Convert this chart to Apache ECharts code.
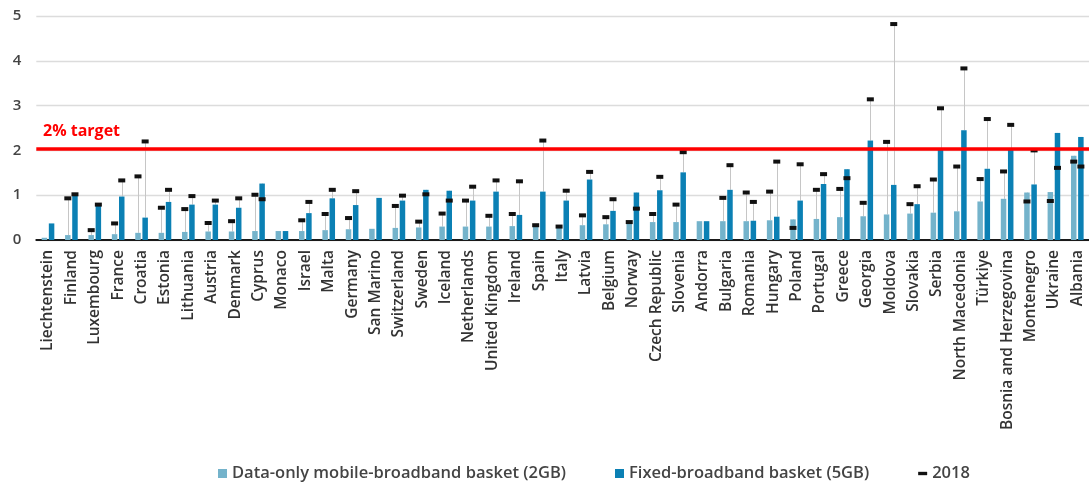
<!DOCTYPE html>
<html>
<head>
<meta charset="utf-8">
<script src="https://cdn.jsdelivr.net/npm/echarts@6/dist/echarts.min.js"></script>
<style>
html,body{margin:0;padding:0;background:#fff;}
#chart{width:1089px;height:485px;}
</style>
</head>
<body>
<div id="chart"></div>
<script>
var categories = ['Liechtenstein','Finland','Luxembourg','France','Croatia','Estonia','Lithuania','Austria','Denmark','Cyprus','Monaco','Israel','Malta','Germany','San Marino','Switzerland','Sweden','Iceland','Netherlands','United Kingdom','Ireland','Spain','Italy','Latvia','Belgium','Norway','Czech Republic','Slovenia','Andorra','Bulgaria','Romania','Hungary','Poland','Portugal','Greece','Georgia','Moldova','Slovakia','Serbia','North Macedonia','Türkiye','Bosnia and Herzegovina','Montenegro','Ukraine','Albania'];

var mobile = [0.05,0.11,0.11,0.13,0.16,0.16,0.18,0.19,0.19,0.20,0.20,0.20,0.22,0.24,0.25,0.27,0.28,0.30,0.30,0.30,0.31,0.31,0.32,0.33,0.35,0.37,0.40,0.40,0.42,0.42,0.42,0.44,0.46,0.47,0.51,0.53,0.57,0.59,0.61,0.64,0.86,0.92,1.06,1.07,1.88];

var fixed = [0.37,1.00,0.78,0.97,0.50,0.85,0.79,0.79,0.72,1.26,0.20,0.60,0.93,0.78,0.94,0.88,1.12,1.10,0.88,1.08,0.56,1.08,0.88,1.35,0.65,1.06,1.11,1.51,0.42,1.12,0.43,0.52,0.88,1.25,1.58,2.22,1.23,0.80,2.04,2.45,1.59,2.04,1.24,2.39,2.30];

var mobile2018 = [null,0.93,0.22,0.37,1.42,0.72,0.69,0.38,0.42,1.01,null,0.44,0.58,0.49,null,0.76,0.41,0.59,0.88,0.54,0.58,0.33,0.30,0.55,0.51,0.40,0.58,0.79,null,0.94,1.06,1.08,0.27,1.12,1.14,0.83,2.19,0.80,1.35,1.64,1.36,1.53,0.86,0.87,1.75];

var fixed2018 = [null,1.02,0.79,1.33,2.20,1.12,0.98,0.88,0.93,0.91,null,0.85,1.12,1.09,null,0.99,1.02,0.88,1.19,1.33,1.31,2.22,1.10,1.52,0.91,0.70,1.41,1.96,null,1.67,0.85,1.75,1.69,1.47,1.38,3.14,4.82,1.20,2.94,3.83,2.70,2.57,2.00,1.61,1.64];

var yTicks = [0,1,2,3,4,5];
var targetValue = 2.04;
var targetLabel = '2% target';
var seriesNames = ['Data-only mobile-broadband basket (2GB)','Fixed-broadband basket (5GB)','2018'];

var FONT = '"Open Sans", "Noto Sans", sans-serif';
var BAR_W = 5.5, BAR_GAP = 0.3;
var OFFSET = (BAR_W + BAR_W * BAR_GAP) / 2;

var pts2018 = [];
categories.forEach(function (c, i) {
  if (mobile2018[i] != null) pts2018.push([i, mobile2018[i], mobile[i], -1]);
  if (fixed2018[i] != null) pts2018.push([i, fixed2018[i], fixed[i], 1]);
});

function renderConnector(params, api) {
  var i = api.value(0), v = api.value(1), b = api.value(2), side = api.value(3);
  var p = api.coord([i, v]);
  var q = api.coord([i, b]);
  var x = Math.round(p[0] + side * OFFSET) + 0.5;
  return {type: 'line', shape: {x1: x, y1: p[1], x2: x, y2: q[1]},
          style: {stroke: '#c6c6c6', lineWidth: 1}};
}
function renderMarker(params, api) {
  var i = api.value(0), v = api.value(1), side = api.value(3);
  var p = api.coord([i, v]);
  var x = p[0] + side * OFFSET;
  return {type: 'rect', shape: {x: x - 3.5, y: p[1] - 2, width: 7, height: 4},
          style: {fill: '#111'}};
}

var chart = echarts.init(document.getElementById('chart'), null, {renderer: 'canvas'});
chart.setOption({
  animation: false,
  grid: {left: 36.3, right: -4, top: 16, bottom: 245, containLabel: false},
  legend: {
    left: 213, top: 460,
    itemWidth: 9, itemHeight: 9, itemGap: 49,
    textStyle: {fontFamily: FONT, fontSize: 16.5, fontWeight: 600, color: '#444'},
    data: [
      {name: seriesNames[0], icon: 'rect'},
      {name: seriesNames[1], icon: 'rect'},
      {name: seriesNames[2], icon: 'path://M0,0H8V3H0Z'}
    ]
  },
  graphic: [{
    type: 'text', left: 43, top: 123,
    style: {text: targetLabel, font: '700 16px ' + FONT, fill: '#ff0000'}
  }],
  xAxis: {
    type: 'category', data: categories,
    axisTick: {show: false},
    axisLine: {lineStyle: {color: '#1a1a1a', width: 2}},
    axisLabel: {interval: 0, rotate: 90, margin: 10, color: '#333',
                fontFamily: FONT, fontSize: 15.5, fontWeight: 600}
  },
  yAxis: {
    type: 'value', min: yTicks[0], max: yTicks[yTicks.length - 1], interval: 1,
    axisLine: {show: false}, axisTick: {show: false},
    splitLine: {lineStyle: {color: '#dcdcdc', width: 1.3}},
    axisLabel: {margin: 15, color: '#444', fontFamily: FONT, fontSize: 15, fontWeight: 600}
  },
  series: [
    {
      name: 'conn', type: 'custom', renderItem: renderConnector, data: pts2018,
      encode: {x: 0, y: 1}, z: 1, silent: true
    },
    {
      name: seriesNames[0], type: 'bar', data: mobile, barWidth: BAR_W, barGap: (BAR_GAP * 100) + '%',
      itemStyle: {color: '#74b3cb'}, z: 2
    },
    {
      name: seriesNames[1], type: 'bar', data: fixed, barWidth: BAR_W, barGap: (BAR_GAP * 100) + '%',
      itemStyle: {color: '#0b80b4'}, z: 2,
      markLine: {
        silent: true, symbol: 'none', label: {show: false},
        lineStyle: {color: '#ff0000', width: 3.5, type: 'solid'},
        data: [{yAxis: targetValue}]
      }
    },
    {
      name: seriesNames[2], type: 'custom', renderItem: renderMarker, data: pts2018,
      encode: {x: 0, y: 1}, itemStyle: {color: '#111'}, z: 3
    }
  ]
});
</script>
</body>
</html>
